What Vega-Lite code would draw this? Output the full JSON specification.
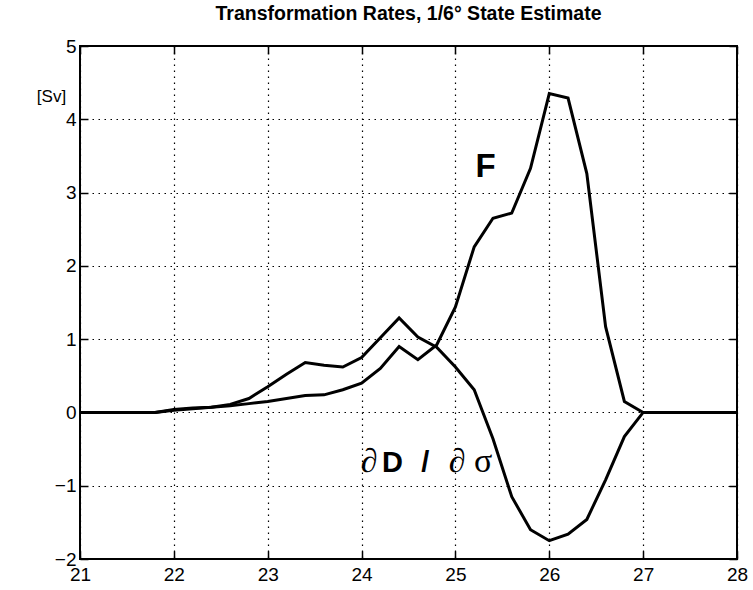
{
  "$schema": "https://vega.github.io/schema/vega-lite/v6.json",
  "width": 657,
  "height": 513,
  "autosize": "none",
  "padding": {"left": 80, "top": 46, "right": 16, "bottom": 31},
  "background": "white",
  "title": {
    "text": "Transformation Rates, 1/6° State Estimate",
    "font": "Liberation Sans",
    "fontSize": 19.5,
    "fontWeight": "bold",
    "color": "black",
    "anchor": "middle",
    "offset": 13
  },
  "config": {
    "view": {"stroke": "black", "strokeWidth": 2},
    "axis": {
      "domain": false,
      "tickColor": "black",
      "tickWidth": 1.5,
      "labelColor": "black",
      "labelFont": "Liberation Sans",
      "labelFontSize": 19,
      "labelFlush": false,
      "labelOverlap": false,
      "gridColor": "black",
      "gridDash": [1.5, 4.5],
      "gridWidth": 1.2,
      "gridOpacity": 1
    }
  },
  "datasets": {
    "curves": [
      {"x": 21.0, "series": "F", "value": 0},
      {"x": 21.2, "series": "F", "value": 0},
      {"x": 21.4, "series": "F", "value": 0},
      {"x": 21.6, "series": "F", "value": 0},
      {"x": 21.8, "series": "F", "value": 0},
      {"x": 22.0, "series": "F", "value": 0.03},
      {"x": 22.2, "series": "F", "value": 0.05},
      {"x": 22.4, "series": "F", "value": 0.07},
      {"x": 22.6, "series": "F", "value": 0.09},
      {"x": 22.8, "series": "F", "value": 0.12},
      {"x": 23.0, "series": "F", "value": 0.15},
      {"x": 23.2, "series": "F", "value": 0.19},
      {"x": 23.4, "series": "F", "value": 0.23},
      {"x": 23.6, "series": "F", "value": 0.24},
      {"x": 23.8, "series": "F", "value": 0.31},
      {"x": 24.0, "series": "F", "value": 0.40},
      {"x": 24.2, "series": "F", "value": 0.60},
      {"x": 24.4, "series": "F", "value": 0.90},
      {"x": 24.6, "series": "F", "value": 0.72},
      {"x": 24.8, "series": "F", "value": 0.92},
      {"x": 25.0, "series": "F", "value": 1.44},
      {"x": 25.2, "series": "F", "value": 2.26},
      {"x": 25.4, "series": "F", "value": 2.65},
      {"x": 25.6, "series": "F", "value": 2.72},
      {"x": 25.8, "series": "F", "value": 3.33},
      {"x": 26.0, "series": "F", "value": 4.35},
      {"x": 26.2, "series": "F", "value": 4.29},
      {"x": 26.4, "series": "F", "value": 3.26},
      {"x": 26.6, "series": "F", "value": 1.17},
      {"x": 26.8, "series": "F", "value": 0.15},
      {"x": 27.0, "series": "F", "value": 0},
      {"x": 27.2, "series": "F", "value": 0},
      {"x": 27.4, "series": "F", "value": 0},
      {"x": 27.6, "series": "F", "value": 0},
      {"x": 27.8, "series": "F", "value": 0},
      {"x": 28.0, "series": "F", "value": 0},
      {"x": 21.0, "series": "dD/dsigma", "value": 0},
      {"x": 21.2, "series": "dD/dsigma", "value": 0},
      {"x": 21.4, "series": "dD/dsigma", "value": 0},
      {"x": 21.6, "series": "dD/dsigma", "value": 0},
      {"x": 21.8, "series": "dD/dsigma", "value": 0},
      {"x": 22.0, "series": "dD/dsigma", "value": 0.04},
      {"x": 22.2, "series": "dD/dsigma", "value": 0.06},
      {"x": 22.4, "series": "dD/dsigma", "value": 0.07},
      {"x": 22.6, "series": "dD/dsigma", "value": 0.11},
      {"x": 22.8, "series": "dD/dsigma", "value": 0.19},
      {"x": 23.0, "series": "dD/dsigma", "value": 0.35},
      {"x": 23.2, "series": "dD/dsigma", "value": 0.52},
      {"x": 23.4, "series": "dD/dsigma", "value": 0.68},
      {"x": 23.6, "series": "dD/dsigma", "value": 0.645},
      {"x": 23.8, "series": "dD/dsigma", "value": 0.62},
      {"x": 24.0, "series": "dD/dsigma", "value": 0.75},
      {"x": 24.2, "series": "dD/dsigma", "value": 1.02},
      {"x": 24.4, "series": "dD/dsigma", "value": 1.29},
      {"x": 24.6, "series": "dD/dsigma", "value": 1.03},
      {"x": 24.8, "series": "dD/dsigma", "value": 0.89},
      {"x": 25.0, "series": "dD/dsigma", "value": 0.62},
      {"x": 25.2, "series": "dD/dsigma", "value": 0.31},
      {"x": 25.4, "series": "dD/dsigma", "value": -0.36},
      {"x": 25.6, "series": "dD/dsigma", "value": -1.15},
      {"x": 25.8, "series": "dD/dsigma", "value": -1.60},
      {"x": 26.0, "series": "dD/dsigma", "value": -1.75},
      {"x": 26.2, "series": "dD/dsigma", "value": -1.66},
      {"x": 26.4, "series": "dD/dsigma", "value": -1.46},
      {"x": 26.6, "series": "dD/dsigma", "value": -0.92},
      {"x": 26.8, "series": "dD/dsigma", "value": -0.33},
      {"x": 27.0, "series": "dD/dsigma", "value": 0},
      {"x": 27.2, "series": "dD/dsigma", "value": 0},
      {"x": 27.4, "series": "dD/dsigma", "value": 0},
      {"x": 27.6, "series": "dD/dsigma", "value": 0},
      {"x": 27.8, "series": "dD/dsigma", "value": 0},
      {"x": 28.0, "series": "dD/dsigma", "value": 0}
    ],
    "labelF": [{"x": 25.32, "y": 3.21, "label": "F"}],
    "labelPartial": [{"x": 24.08, "y": -0.81, "label": "∂"}, {"x": 25.16, "y": -0.81, "label": "∂ σ"}],
    "labelD": [{"x": 24.33, "y": -0.81, "label": "D"}, {"x": 24.68, "y": -0.81, "label": "/"}]
  },
  "layer": [
    {
      "data": {"name": "curves"},
      "mark": {"type": "line", "strokeWidth": 3, "strokeJoin": "miter", "clip": true},
      "encoding": {
        "x": {
          "field": "x", "type": "quantitative",
          "scale": {"domain": [21, 28], "nice": false, "zero": false},
          "axis": {"orient": "bottom", "values": [21, 22, 23, 24, 25, 26, 27, 28], "format": "d", "grid": true, "tickSize": -8, "labelPadding": 14, "title": null}
        },
        "y": {
          "field": "value", "type": "quantitative",
          "scale": {"domain": [-2, 5], "nice": false, "zero": false},
          "axis": {"orient": "left", "values": [-2, -1, 0, 1, 2, 3, 4, 5], "format": "d", "grid": true, "tickSize": -8, "labelPadding": 12,
            "title": "[Sv]", "titleAngle": 0, "titleX": -29, "titleY": 50, "titleAlign": "center", "titleBaseline": "middle",
            "titleFont": "Liberation Sans", "titleFontSize": 17, "titleFontWeight": "normal", "titleColor": "black"}
        },
        "color": {"field": "series", "type": "nominal", "scale": {"range": ["black", "black"]}, "legend": null}
      }
    },
    {
      "data": {"name": "labelF"},
      "mark": {"type": "text", "font": "Liberation Sans", "fontWeight": "bold", "fontSize": 33, "align": "center", "baseline": "alphabetic", "color": "black"},
      "encoding": {
        "x": {"field": "x", "type": "quantitative", "axis": {"orient": "top", "values": [21, 22, 23, 24, 25, 26, 27, 28], "labels": false, "grid": false, "tickSize": -8, "title": null}},
        "y": {"field": "y", "type": "quantitative", "axis": {"orient": "right", "values": [-2, -1, 0, 1, 2, 3, 4, 5], "labels": false, "grid": false, "tickSize": -8, "title": null}},
        "text": {"field": "label"}
      }
    },
    {
      "data": {"name": "labelPartial"},
      "mark": {"type": "text", "font": "Liberation Serif", "fontSize": 34, "align": "center", "baseline": "alphabetic", "color": "black"},
      "encoding": {
        "x": {"field": "x", "type": "quantitative", "axis": null},
        "y": {"field": "y", "type": "quantitative", "axis": null},
        "text": {"field": "label"}
      }
    },
    {
      "data": {"name": "labelD"},
      "mark": {"type": "text", "font": "Liberation Sans", "fontWeight": "bold", "fontSize": 29, "align": "center", "baseline": "alphabetic", "color": "black"},
      "encoding": {
        "x": {"field": "x", "type": "quantitative", "axis": null},
        "y": {"field": "y", "type": "quantitative", "axis": null},
        "text": {"field": "label"}
      }
    }
  ]
}
